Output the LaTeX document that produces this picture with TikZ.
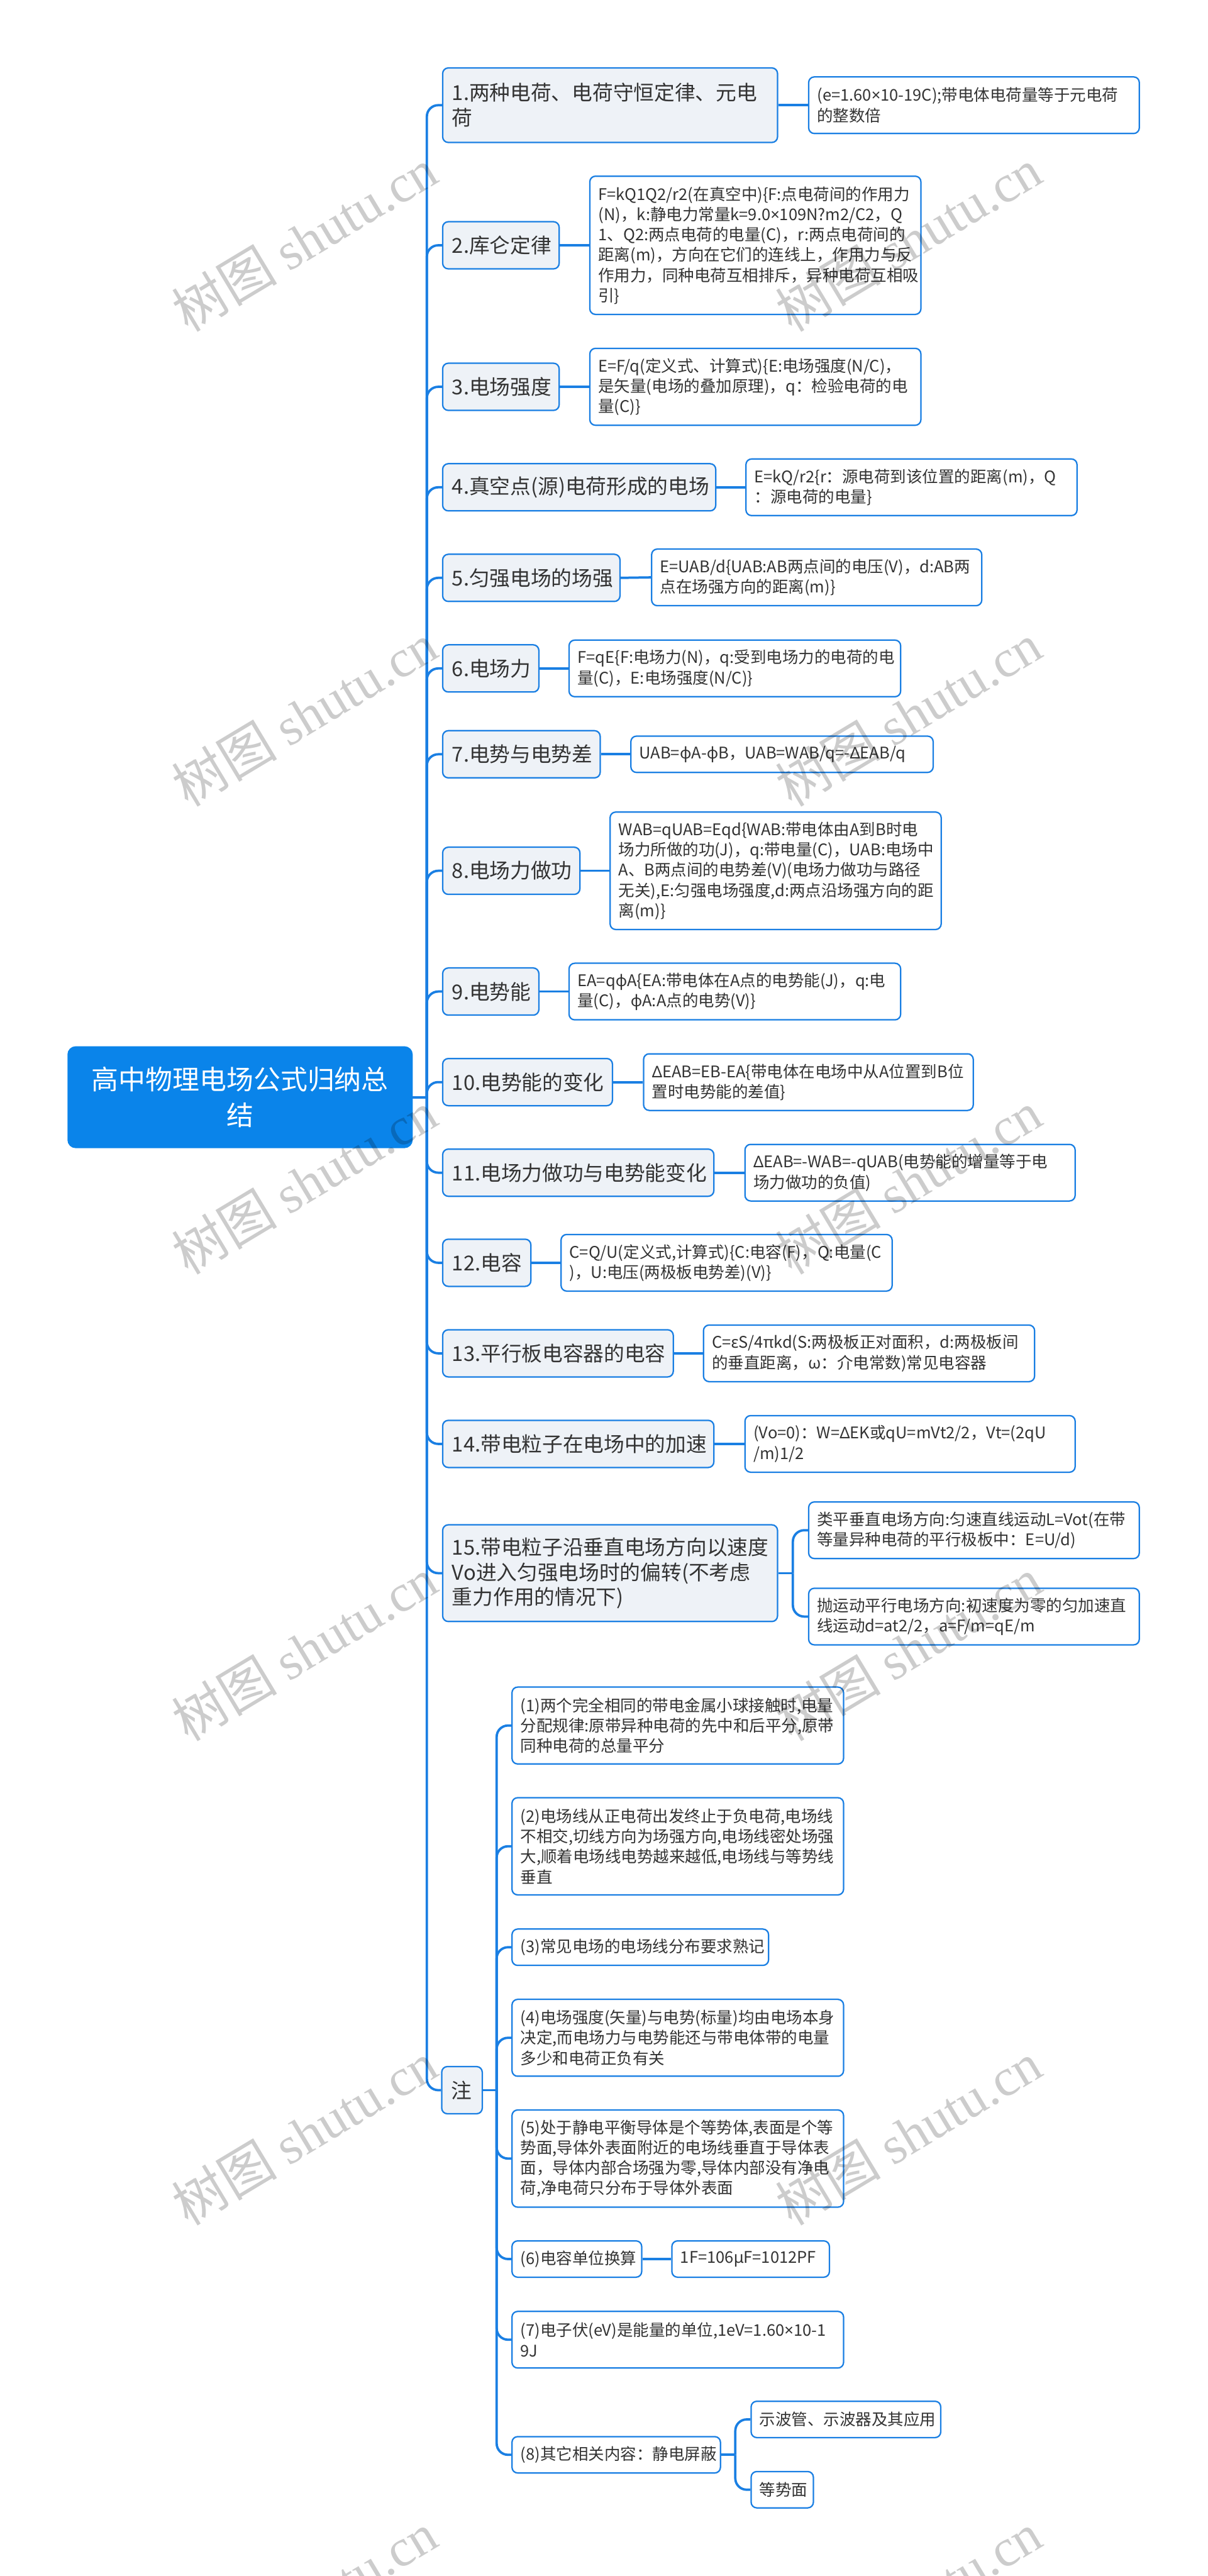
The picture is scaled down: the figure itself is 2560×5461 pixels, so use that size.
\documentclass[tikz,border=0pt]{standalone}
\usepackage{fontspec}
\setmainfont{Noto Sans CJK SC}
\newfontfamily\wmlatin{Liberation Serif}
\newfontfamily\lsans{Noto Sans}
\newcommand\gk[1]{{\lsans #1}}
\definecolor{mblue}{HTML}{1A7FE3}
\definecolor{rootblue}{HTML}{0A84EA}
\definecolor{lfill}{HTML}{EEF2F7}
\definecolor{tgray}{HTML}{333333}
\tikzset{
 conn/.style={draw=mblue, line width=1.25pt},
 nodebase/.style={draw=mblue, line width=0.75pt, rounded corners=3pt, anchor=west, align=left, text=tgray, inner ysep=0pt},
 lonebox/.style={nodebase, fill=lfill, inner xsep=5pt, font=\fontsize{10.9pt}{13.25pt}\selectfont},
 childbox/.style={nodebase, fill=white, inner xsep=4.5pt, font=\fontsize{8.5pt}{10.75pt}\selectfont},
 rootbox/.style={fill=rootblue, draw=rootblue, line width=0.75pt, rounded corners=4pt, anchor=west, align=center, text=white, inner xsep=8pt, inner ysep=0pt, font=\fontsize{14.3pt}{19.25pt}\selectfont},
 wm/.style={rotate=31, text=black, text opacity=0.2, font=\fontsize{28pt}{30pt}\selectfont}
}
\begin{document}
\begin{tikzpicture}[x=0.25pt,y=-0.25pt]
\useasboundingbox[fill=white] (0,0) rectangle (2560,5461);

% root
\node[rootbox, text width=166.25pt, minimum height=53.25pt] (root) at (143,2326) {高中物理电场公式归纳总\\结};

% level 1
\node[lonebox, text width=167.5pt, minimum height=39.5pt] (n1) at (937,223) {1.两种电荷、电荷守恒定律、元电\\荷};
\node[lonebox, text width=51.75pt, minimum height=25pt] (n2) at (937,520) {2.库仑定律};
\node[lonebox, text width=51.75pt, minimum height=25pt] (n3) at (937,820) {3.电场强度};
\node[lonebox, text width=134.75pt, minimum height=25pt] (n4) at (937,1033) {4.真空点(源)电荷形成的电场};
\node[lonebox, text width=84pt, minimum height=25pt] (n5) at (937,1225) {5.匀强电场的场强};
\node[lonebox, text width=41pt, minimum height=25pt] (n6) at (937,1417) {6.电场力};
\node[lonebox, text width=73.5pt, minimum height=25pt] (n7) at (937,1599) {7.电势与电势差};
\node[lonebox, text width=62.75pt, minimum height=25pt] (n8) at (937,1846) {8.电场力做功};
\node[lonebox, text width=41pt, minimum height=25pt] (n9) at (937,2102) {9.电势能};
\node[lonebox, text width=80pt, minimum height=25pt] (n10) at (937,2294) {10.电势能的变化};
\node[lonebox, text width=133.75pt, minimum height=25pt] (n11) at (937,2486) {11.电场力做功与电势能变化};
\node[lonebox, text width=36.75pt, minimum height=25pt] (n12) at (937,2677) {12.电容};
\node[lonebox, text width=112.25pt, minimum height=25pt] (n13) at (937,2869) {13.平行板电容器的电容};
\node[lonebox, text width=133.75pt, minimum height=25pt] (n14) at (937,3061) {14.带电粒子在电场中的加速};
\node[lonebox, text width=167.5pt, minimum height=51.25pt] (n15) at (937,3335) {15.带电粒子沿垂直电场方向以速度\\Vo进入匀强电场时的偏转(不考虑\\重力作用的情况下)};
\node[lonebox, text width=11.5pt, minimum height=25pt] (zhu) at (935,4431) {注};

% level 2
\node[childbox, text width=166.25pt, minimum height=30pt] (c1) at (1713,223) {(e=1.60\gk{×}10-19C);带电体电荷量等于元电荷\\的整数倍};
\node[childbox, text width=166.5pt, minimum height=73.25pt] (c2) at (1249,520) {F=kQ1Q2/r2(在真空中)\{F:点电荷间的作用力\\(N)，k:静电力常量k=9.0\gk{×}109N?m2/C2，Q\\1、Q2:两点电荷的电量(C)，r:两点电荷间的\\距离(m)，方向在它们的连线上，作用力与反\\作用力，同种电荷互相排斥，异种电荷互相吸\\引\}};
\node[childbox, text width=166.5pt, minimum height=40.75pt] (c3) at (1249,820) {E=F/q(定义式、计算式)\{E:电场强度(N/C)，\\是矢量(电场的叠加原理)，q：检验电荷的电\\量(C)\}};
\node[childbox, text width=166.5pt, minimum height=30pt] (c4) at (1580,1033) {E=kQ/r2\{r：源电荷到该位置的距离(m)，Q\\：源电荷的电量\}};
\node[childbox, text width=166pt, minimum height=30pt] (c5) at (1380,1224) {E=UAB/d\{UAB:AB两点间的电压(V)，d:AB两\\点在场强方向的距离(m)\}};
\node[childbox, text width=166.75pt, minimum height=30pt] (c6) at (1205,1417) {F=qE\{F:电场力(N)，q:受到电场力的电荷的电\\量(C)，E:电场强度(N/C)\}};
\node[childbox, text width=151.25pt, minimum height=19.25pt] (c7) at (1336,1599) {UAB=\gk{φ}A-\gk{φ}B，UAB=WAB/q=-\gk{Δ}EAB/q};
\node[childbox, text width=166.5pt, minimum height=62.25pt] (c8) at (1292,1846) {WAB=qUAB=Eqd\{WAB:带电体由A到B时电\\场力所做的功(J)，q:带电量(C)，UAB:电场中\\A、B两点间的电势差(V)(电场力做功与路径\\无关),E:匀强电场强度,d:两点沿场强方向的距\\离(m)\}};
\node[childbox, text width=166.75pt, minimum height=30pt] (c9) at (1205,2102) {EA=q\gk{φ}A\{EA:带电体在A点的电势能(J)，q:电\\量(C)，\gk{φ}A:A点的电势(V)\}};
\node[childbox, text width=165.75pt, minimum height=30pt] (c10) at (1363,2294) {\gk{Δ}EAB=EB-EA\{带电体在电场中从A位置到B位\\置时电势能的差值\}};
\node[childbox, text width=166pt, minimum height=30pt] (c11) at (1578,2486) {\gk{Δ}EAB=-WAB=-qUAB(电势能的增量等于电\\场力做功的负值)};
\node[childbox, text width=166.5pt, minimum height=30pt] (c12) at (1188,2677) {C=Q/U(定义式,计算式)\{C:电容(F)，Q:电量(C\\)，U:电压(两极板电势差)(V)\}};
\node[childbox, text width=166.5pt, minimum height=30pt] (c13) at (1490,2869) {C=\gk{ε}S/4\gk{π}kd(S:两极板正对面积，d:两极板间\\的垂直距离，\gk{ω}：介电常数)常见电容器};
\node[childbox, text width=166pt, minimum height=30pt] (c14) at (1578,3061) {(Vo=0)：W=\gk{Δ}EK或qU=mVt2/2，Vt=(2qU\\/m)1/2};
\node[childbox, text width=166.25pt, minimum height=30pt] (c15a) at (1713,3244) {类平垂直电场方向:匀速直线运动L=Vot(在带\\等量异种电荷的平行极板中：E=U/d)};
\node[childbox, text width=166.25pt, minimum height=30pt] (c15b) at (1713,3427) {抛运动平行电场方向:初速度为零的匀加速直\\线运动d=at2/2，a=F/m=qE/m};

% notes
\node[childbox, text width=166.75pt, minimum height=40.75pt] (z1) at (1084,3658) {(1)两个完全相同的带电金属小球接触时,电量\\分配规律:原带异种电荷的先中和后平分,原带\\同种电荷的总量平分};
\node[childbox, text width=166.75pt, minimum height=51.5pt] (z2) at (1084,3914) {(2)电场线从正电荷出发终止于负电荷,电场线\\不相交,切线方向为场强方向,电场线密处场强\\大,顺着电场线电势越来越低,电场线与等势线\\垂直};
\node[childbox, text width=127pt, minimum height=19.25pt] (z3) at (1084,4128) {(3)常见电场的电场线分布要求熟记};
\node[childbox, text width=166.75pt, minimum height=40.75pt] (z4) at (1084,4320) {(4)电场强度(矢量)与电势(标量)均由电场本身\\决定,而电场力与电势能还与带电体带的电量\\多少和电荷正负有关};
\node[childbox, text width=166.75pt, minimum height=51.5pt] (z5) at (1084,4576) {(5)处于静电平衡导体是个等势体,表面是个等\\势面,导体外表面附近的电场线垂直于导体表\\面，导体内部合场强为零,导体内部没有净电\\荷,净电荷只分布于导体外表面};
\node[childbox, text width=59.75pt, minimum height=19.25pt] (z6) at (1084,4789) {(6)电容单位换算};
\node[childbox, text width=74.5pt, minimum height=19.25pt] (z6c) at (1423,4789) {1F=106\gk{μ}F=1012PF};
\node[childbox, text width=166.75pt, minimum height=30pt] (z7) at (1084,4960) {(7)电子伏(eV)是能量的单位,1eV=1.60\gk{×}10-1\\9J};
\node[childbox, text width=101.5pt, minimum height=19.25pt] (z8) at (1084,5204) {(8)其它相关内容：静电屏蔽};
\node[childbox, text width=91.5pt, minimum height=19.25pt] (z8a) at (1591,5129) {示波管、示波器及其应用};
\node[childbox, text width=24pt, minimum height=19.25pt] (z8b) at (1591,5278) {等势面};

% junctions
\coordinate (rj) at (905,2326);
\coordinate (j15) at (1681,3335);
\coordinate (jz) at (1053,4431);
\coordinate (j8) at (1559,5204);

% connectors
\draw[conn] (root.east) -- (rj);
\foreach \n in {n1,n2,n3,n4,n5,n6,n7,n8,n9,n10,n11,n12,n13,n14,n15,zhu}
  \draw[conn, rounded corners=6pt] (rj) |- (\n.west);
\foreach \i in {1,...,14}
  \draw[conn] (n\i.east) -- (c\i.west);
\draw[conn] (n15.east) -- (j15);
\draw[conn, rounded corners=6pt] (j15) |- (c15a.west);
\draw[conn, rounded corners=6pt] (j15) |- (c15b.west);
\draw[conn] (zhu.east) -- (jz);
\foreach \n in {z1,z2,z3,z4,z5,z6,z7,z8}
  \draw[conn, rounded corners=6pt] (jz) |- (\n.west);
\draw[conn] (z6.east) -- (z6c.west);
\draw[conn] (z8.east) -- (j8);
\draw[conn, rounded corners=6pt] (j8) |- (z8a.west);
\draw[conn, rounded corners=6pt] (j8) |- (z8b.west);

% watermarks
\node[wm] (wm1) at (645,508) {树图 {\wmlatin shutu.cn}};
\node[wm] (wm2) at (1926,508) {树图 {\wmlatin shutu.cn}};
\node[wm] (wm3) at (645,1515) {树图 {\wmlatin shutu.cn}};
\node[wm] (wm4) at (1926,1515) {树图 {\wmlatin shutu.cn}};
\node[wm] (wm5) at (645,2507) {树图 {\wmlatin shutu.cn}};
\node[wm] (wm6) at (1926,2507) {树图 {\wmlatin shutu.cn}};
\node[wm] (wm7) at (645,3496) {树图 {\wmlatin shutu.cn}};
\node[wm] (wm8) at (1926,3496) {树图 {\wmlatin shutu.cn}};
\node[wm] (wm9) at (645,4523) {树图 {\wmlatin shutu.cn}};
\node[wm] (wm10) at (1926,4523) {树图 {\wmlatin shutu.cn}};
\node[wm] (wm11) at (645,5520) {树图 {\wmlatin shutu.cn}};
\node[wm] (wm12) at (1926,5520) {树图 {\wmlatin shutu.cn}};
\end{tikzpicture}
\end{document}
